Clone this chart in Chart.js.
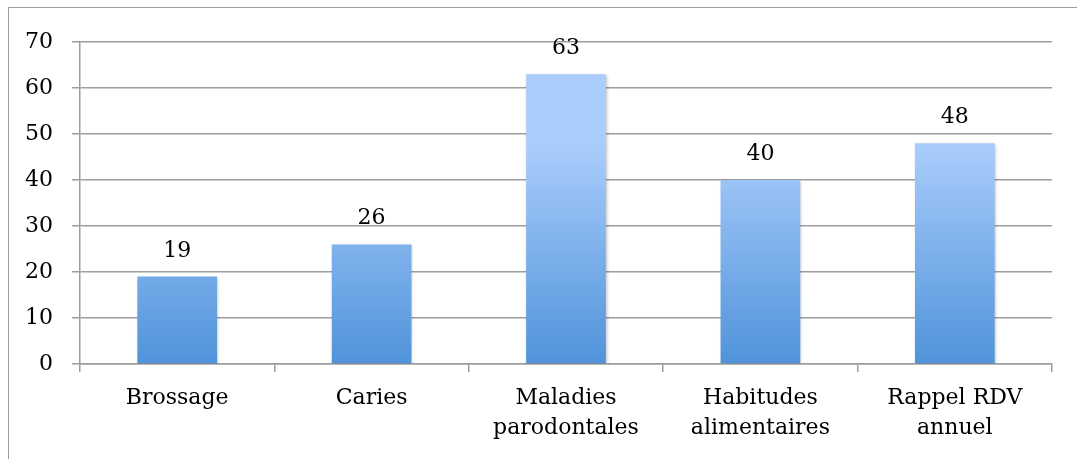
<!DOCTYPE html>
<html lang="fr">
<head>
    <meta charset="UTF-8">
    <title>Thèmes abordés</title>
    <script src="https://cdn.jsdelivr.net/npm/chart.js"></script>
    <style>
        html, body { margin: 0; padding: 0; background: #fff; }
        #cadre {
            position: absolute; left: 8px; top: 7px; width: 1200px; height: 600px;
            border-top: 1.5px solid #9d9d9d; border-left: 1.5px solid #9d9d9d;
        }
        #boite { position: absolute; left: 0; top: 0; width: 1077px; height: 459px; }
    </style>
</head>
<body>
    <div id="cadre"></div>
    <div id="boite"><canvas id="graphique"></canvas></div>

    <script>
        // données
        const categories = ['Brossage', 'Caries', ['Maladies', 'parodontales'], ['Habitudes', 'alimentaires'], ['Rappel RDV', 'annuel']];
        const valeurs = [19, 26, 63, 40, 48];
        const yMax = 70;
        const yPas = 10;

        const police = '"DejaVu Serif", serif';

        // dégradé par barre (clair en haut, foncé en bas) + ombre légère
        const degradeBarres = {
            id: 'degradeBarres',
            beforeDatasetsDraw(chart) {
                const ctx = chart.ctx;
                chart.getDatasetMeta(0).data.forEach(bar => {
                    const g = ctx.createLinearGradient(0, bar.y, 0, bar.base);
                    g.addColorStop(0, '#aacdfc');
                    g.addColorStop(1, '#5093da');
                    bar.options.backgroundColor = g;
                });
                ctx.save();
                ctx.shadowColor = 'rgba(0,0,0,0.25)';
                ctx.shadowBlur = 3;
                ctx.shadowOffsetX = 1;
                ctx.shadowOffsetY = 1;
            },
            afterDatasetsDraw(chart) {
                chart.ctx.restore();
                const ctx = chart.ctx;
                ctx.save();
                ctx.fillStyle = '#000';
                ctx.font = '22px ' + police;
                ctx.textAlign = 'center';
                ctx.textBaseline = 'alphabetic';
                chart.getDatasetMeta(0).data.forEach((bar, i) => {
                    ctx.fillText(valeurs[i], bar.x, bar.y - 20);
                });
                ctx.restore();
            }
        };

        new Chart(document.getElementById('graphique'), {
            type: 'bar',
            data: {
                labels: categories,
                datasets: [{
                    data: valeurs,
                    backgroundColor: '#7fb0ec',
                    categoryPercentage: 1,
                    barPercentage: 0.41
                }]
            },
            options: {
                responsive: true,
                maintainAspectRatio: false,
                animation: false,
                layout: { padding: { top: 42, right: 25, left: 0, bottom: 0 } },
                plugins: { legend: { display: false }, tooltip: { enabled: false } },
                scales: {
                    y: {
                        min: 0, max: yMax,
                        ticks: { stepSize: yPas, color: '#000', padding: 19, font: { family: police, size: 22 } },
                        grid: { color: '#9d9d9d', lineWidth: 1.5, tickLength: 8 },
                        border: { color: '#9d9d9d', width: 1.5 },
                        afterFit(scale) { scale.width = 80; }
                    },
                    x: {
                        offset: true,
                        ticks: { color: '#000', padding: 11, maxRotation: 0, font: { family: police, size: 22, lineHeight: 1.36 } },
                        grid: { offset: true, drawOnChartArea: false, color: '#9d9d9d', lineWidth: 1.5, tickLength: 8 },
                        border: { color: '#9d9d9d', width: 1.5 },
                        afterFit(scale) { scale.height = 95; }
                    }
                }
            },
            plugins: [degradeBarres]
        });
    </script>
</body>
</html>
